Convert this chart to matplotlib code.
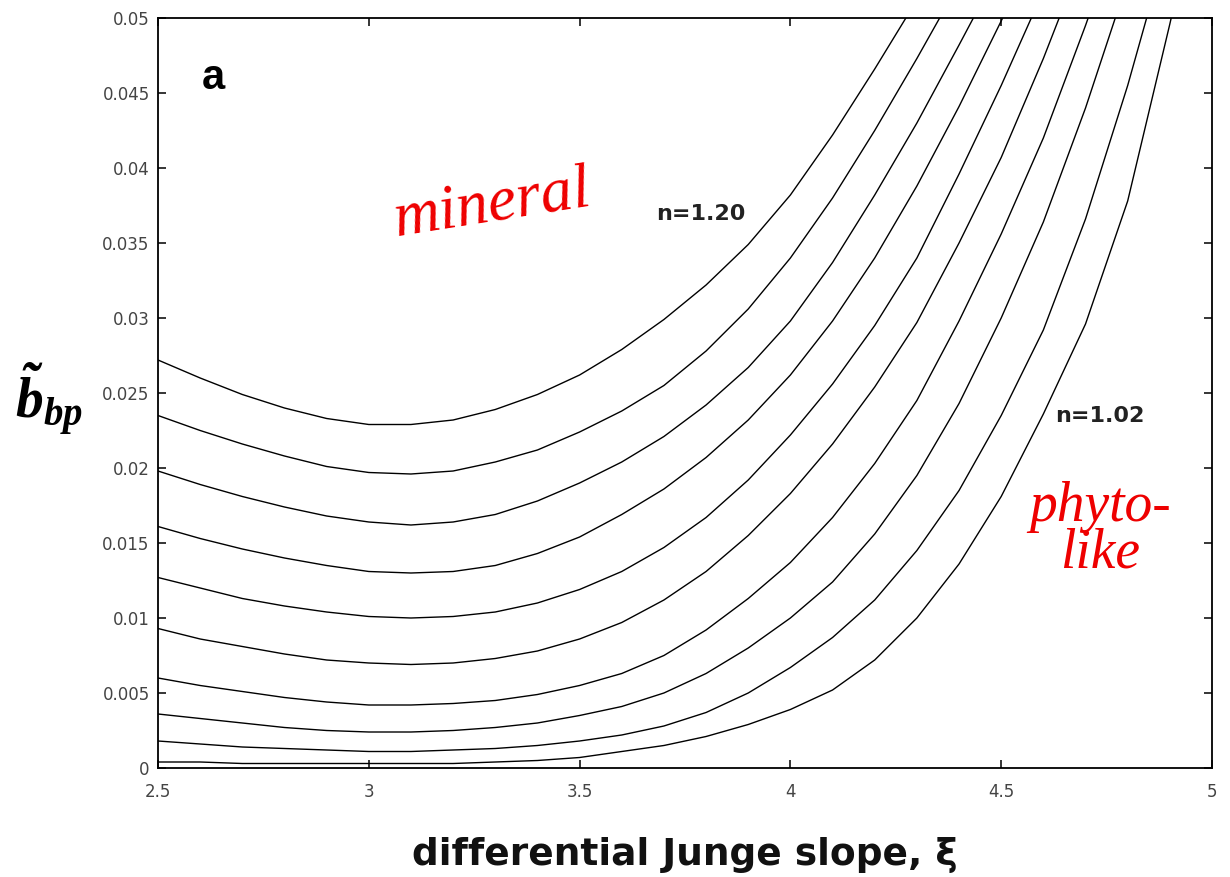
import numpy as np
import matplotlib
matplotlib.use("Agg")
import matplotlib.pyplot as plt

# ---------------- data ----------------
xi = [2.5, 2.6, 2.7, 2.8, 2.9, 3.0, 3.1, 3.2, 3.3, 3.4, 3.5, 3.6, 3.7,
      3.8, 3.9, 4.0, 4.1, 4.2, 4.3, 4.4, 4.5, 4.6, 4.7, 4.8, 4.9, 5.0]

n_values = [1.20, 1.18, 1.16, 1.14, 1.12, 1.10, 1.08, 1.06, 1.04, 1.02]

b_n120 = [.0272, .0260, .0249, .0240, .0233, .0229, .0229, .0232, .0239, .0249,
          .0262, .0279, .0299, .0322, .0349, .0382, .0422, .0466, .0512]
b_n118 = [.0235, .0225, .0216, .0208, .0201, .0197, .0196, .0198, .0204, .0212,
          .0224, .0238, .0255, .0278, .0306, .0340, .0380, .0425, .0473, .0523]
b_n116 = [.0198, .0189, .0181, .0174, .0168, .0164, .0162, .0164, .0169, .0178,
          .0190, .0204, .0221, .0242, .0267, .0298, .0337, .0382, .0430, .0482,
          .0535]
b_n114 = [.0161, .0153, .0146, .0140, .0135, .0131, .0130, .0131, .0135, .0143,
          .0154, .0169, .0186, .0207, .0232, .0262, .0298, .0340, .0388, .0441,
          .0498, .0557]
b_n112 = [.0127, .0120, .0113, .0108, .0104, .0101, .0100, .0101, .0104, .0110,
          .0119, .0131, .0147, .0167, .0192, .0222, .0256, .0295, .0340, .0396,
          .0455, .0518]
b_n110 = [.0093, .0086, .0081, .0076, .0072, .0070, .0069, .0070, .0073, .0078,
          .0086, .0097, .0112, .0131, .0155, .0183, .0216, .0254, .0297, .0350,
          .0407, .0473, .0545]
b_n108 = [.0060, .0055, .0051, .0047, .0044, .0042, .0042, .0043, .0045, .0049,
          .0055, .0063, .0075, .0092, .0113, .0137, .0167, .0203, .0245, .0298,
          .0356, .0420, .0495, .0575]
b_n106 = [.0036, .0033, .0030, .0027, .0025, .0024, .0024, .0025, .0027, .0030,
          .0035, .0041, .0050, .0063, .0080, .0100, .0124, .0156, .0195, .0243,
          .0300, .0364, .0440, .0525]
b_n104 = [.0018, .0016, .0014, .0013, .0012, .0011, .0011, .0012, .0013, .0015,
          .0018, .0022, .0028, .0037, .0050, .0067, .0087, .0112, .0145, .0185,
          .0235, .0292, .0366, .0455, .0555]
b_n102 = [.0004, .0004, .0003, .0003, .0003, .0003, .0003, .0003, .0004, .0005,
          .0007, .0011, .0015, .0021, .0029, .0039, .0052, .0072, .0100, .0136,
          .0181, .0236, .0296, .0378, .0496, .0620]

curves = [b_n120, b_n118, b_n116, b_n114, b_n112,
          b_n110, b_n108, b_n106, b_n104, b_n102]

x_ticks = [2.5, 3, 3.5, 4, 4.5, 5]
x_ticklabels = ["2.5", "3", "3.5", "4", "4.5", "5"]
y_ticks = [0, 0.005, 0.01, 0.015, 0.02, 0.025, 0.03, 0.035, 0.04, 0.045, 0.05]
y_ticklabels = ["0", "0.005", "0.01", "0.015", "0.02", "0.025", "0.03",
                "0.035", "0.04", "0.045", "0.05"]

# ---------------- figure ----------------
plt.rcParams['font.family'] = ['DejaVu Sans']
plt.rcParams['mathtext.fontset'] = 'custom'
plt.rcParams['mathtext.bf'] = 'Liberation Serif:bold:italic'
plt.rcParams['mathtext.it'] = 'Liberation Serif:italic'
plt.rcParams['mathtext.rm'] = 'Liberation Serif'

fig = plt.figure(figsize=(12.3, 8.77), dpi=100)
ax = fig.add_axes([158 / 1230, 1 - 768 / 877, (1212 - 158) / 1230, (768 - 18) / 877])

for ys in curves:
    ax.plot(xi[:len(ys)], ys, color="black", lw=1.0)

ax.set_xlim(2.5, 5)
ax.set_ylim(0, 0.05)
ax.set_xticks(x_ticks)
ax.set_xticklabels(x_ticklabels)
ax.set_yticks(y_ticks)
ax.set_yticklabels(y_ticklabels)
ax.tick_params(direction="in", length=6, width=1.1, top=True, right=True,
               labelsize=12, labelcolor="#444444")
ax.tick_params(axis="y", pad=6)
ax.tick_params(axis="x", pad=11)
for s in ax.spines.values():
    s.set_linewidth(1.3)

ax.set_xlabel("differential Junge slope, ξ", fontsize=27, fontweight="bold",
              labelpad=26, color="#111111")
fig.text(0.040, 0.545, r"$\mathbf{\tilde{b}_{bp}}$", fontsize=40,
         ha="center", va="center")

fig.text(213 / 1230, 1 - 78 / 877, "a", fontsize=30, fontweight="bold",
         family="Liberation Sans", ha="center", va="center")
fig.text(701 / 1230, 1 - 214 / 877, "n=1.20", fontsize=16, fontweight="bold",
         ha="center", va="center", color="#222222")
fig.text(1100 / 1230, 1 - 416 / 877, "n=1.02", fontsize=16, fontweight="bold",
         ha="center", va="center", color="#222222")

fig.text(492 / 1230, 1 - 205 / 877, "mineral", fontsize=46, color="#ee0000",
         family="Liberation Serif", style="italic", ha="center", va="center",
         rotation=9)
fig.text(1100 / 1230, 1 - 530 / 877, "phyto-\nlike", fontsize=40,
         color="#ee0000", family="Liberation Serif", style="italic",
         ha="center", va="center", linespacing=0.85)

fig.savefig("out.png", dpi=100)
